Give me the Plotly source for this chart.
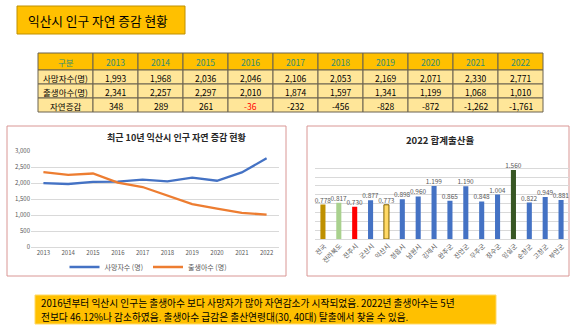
import math
import plotly.graph_objects as go

W, H = 580, 328
FONT = "Noto Sans CJK KR"

# ---- data ----
years = ["2013", "2014", "2015", "2016", "2017", "2018", "2019", "2020", "2021", "2022"]
deaths = [1993, 1968, 2036, 2046, 2106, 2053, 2169, 2071, 2330, 2771]
births = [2341, 2257, 2297, 2010, 1874, 1597, 1341, 1199, 1068, 1010]
natural_change = [348, 289, 261, -36, -232, -456, -828, -872, -1262, -1761]
row_labels = ["사망자수(명)", "출생아수(명)", "자연증감"]
first_decline_year = "2016"

regions = ["전국", "전라북도", "전주시", "군산시", "익산시", "정읍시", "남원시", "김제시",
           "완주군", "진안군", "무주군", "장수군", "임실군", "순창군", "고창군", "부안군"]
tfr = [0.778, 0.817, 0.730, 0.877, 0.773, 0.898, 0.960, 1.199,
       0.865, 1.190, 0.848, 1.004, 1.560, 0.822, 0.949, 0.881]
bar_colors = ["#BF9000", "#A9D18E", "#FF0000", "#4472C4", "#FFD966", "#4472C4", "#4472C4", "#4472C4",
              "#4472C4", "#4472C4", "#4472C4", "#4472C4", "#375623", "#4472C4", "#4472C4", "#4472C4"]


def px(x):
    return x / W


def py(y):
    return 1 - y / H


# pixel rows of the bar chart plot area
BAR_BASE, BAR_TOP = 239, 159.3

fig = go.Figure()

# ---- line chart ----
fig.add_trace(go.Scatter(x=years, y=deaths, mode="lines", name="사망자수 (명)",
                         line=dict(color="#4472C4", width=2.3), xaxis="x", yaxis="y"))
fig.add_trace(go.Scatter(x=years, y=births, mode="lines", name="출생아수 (명)",
                         line=dict(color="#ED7D31", width=2.3), xaxis="x", yaxis="y"))

# ---- bar chart ----
fig.add_trace(go.Bar(
    x=regions, y=tfr, xaxis="x2", yaxis="y2", showlegend=False, width=0.32,
    marker=dict(color=bar_colors,
                line=dict(color=["#7F6000" if c == "#FFD966" else "rgba(0,0,0,0)" for c in bar_colors],
                          width=[1 if c == "#FFD966" else 0 for c in bar_colors])),
    text=[f"{v:.3f}" for v in tfr], textposition="outside", cliponaxis=False,
    constraintext="none",
    textfont=dict(family=FONT, size=6.5, color="#595959"),
))

tick_font = dict(family=FONT, size=6, color="#595959")

fig.update_layout(
    template="none",
    width=W, height=H,
    margin=dict(l=0, r=0, t=0, b=0),
    paper_bgcolor="white", plot_bgcolor="rgba(0,0,0,0)",
    font=dict(family=FONT),
    xaxis=dict(domain=[px(31), px(279)], anchor="y", type="category", range=[-0.5, 9.5],
               automargin=False, showgrid=False, showline=True, linecolor="#D9D9D9",
               ticks="", tickangle=0, tickfont=tick_font),
    yaxis=dict(domain=[py(247), py(151)], anchor="x", range=[0, 3000], dtick=500, tickformat=",",
               automargin=False, showgrid=True, gridcolor="#D9D9D9", gridwidth=1,
               zeroline=False, showline=False, ticks="", tickfont=tick_font),
    xaxis2=dict(domain=[px(315), px(569)], anchor="y2", type="category", range=[-0.5, 15.5],
                automargin=False, showgrid=False, showline=True, linecolor="#D9D9D9",
                ticks="", showticklabels=False),
    yaxis2=dict(domain=[py(BAR_BASE), py(BAR_TOP)], anchor="x2", range=[0, 1.8], dtick=0.2,
                automargin=False, showgrid=True, gridcolor="#D9D9D9", gridwidth=1,
                zeroline=False, showline=False, showticklabels=False, ticks=""),
    legend=dict(orientation="h", x=px(148), y=py(267), xanchor="center", yanchor="middle",
                font=dict(family=FONT, size=7, color="#595959"), bgcolor="rgba(0,0,0,0)",
                tracegroupgap=0),
    bargap=0.65,
)

shapes = []
annotations = []

# ---- region labels, slanted at 45 degrees and ending just under each bar ----
label_size = 6.5
diag = math.cos(math.radians(45))
for name in regions:
    half = len(name) * label_size * 0.5
    annotations.append(dict(text=name, x=name, xref="x2",
                            y=py(BAR_BASE + 5 + half * diag), yref="paper",
                            xanchor="center", yanchor="middle", textangle=-45, showarrow=False,
                            xshift=2 - half * diag,
                            font=dict(family=FONT, size=label_size, color="#595959")))

# ---- summary table (cells drawn from the data arrays) ----
col_edges = [38, 93] + [93 + 45 * (i + 1) for i in range(len(years))]
row_edges = [53, 70, 84, 98, 112]
header_row = ["구분"] + years
body_rows = [
    [row_labels[0]] + [f"{v:,}" for v in deaths],
    [row_labels[1]] + [f"{v:,}" for v in births],
    [row_labels[2]] + [f"{v:,}" for v in natural_change],
]
table_rows = [header_row] + body_rows
for r, row in enumerate(table_rows):
    y0, y1 = row_edges[r], row_edges[r + 1]
    for c, val in enumerate(row):
        x0, x1 = col_edges[c], col_edges[c + 1]
        shapes.append(dict(type="rect", xref="paper", yref="paper",
                           x0=px(x0), x1=px(x1), y0=py(y1), y1=py(y0),
                           fillcolor="#FFC000" if r == 0 else "#FFE699",
                           line=dict(color="#6b6250", width=1), layer="below"))
        color = "#000000"
        if r == 0:
            color = "#2E8B7A"
        elif r == 3 and c > 0 and years[c - 1] == first_decline_year:
            color = "#FF0000"
        annotations.append(dict(text=val, x=px((x0 + x1) / 2), y=py((y0 + y1) / 2 + 0.5),
                                xref="paper", yref="paper", xanchor="center", yanchor="middle",
                                showarrow=False,
                                font=dict(family=FONT, size=8.5, color=color)))

# ---- frames and boxes ----
shapes += [
    dict(type="rect", xref="paper", yref="paper", x0=px(17), x1=px(185), y0=py(34), y1=py(6),
         fillcolor="#FFC000", line=dict(color="#BF9000", width=1), layer="below"),
    dict(type="rect", xref="paper", yref="paper", x0=px(7), x1=px(286), y0=py(276), y1=py(126),
         fillcolor="rgba(0,0,0,0)", line=dict(color="#D99694", width=1), layer="below"),
    dict(type="rect", xref="paper", yref="paper", x0=px(307), x1=px(569), y0=py(276), y1=py(126),
         fillcolor="rgba(0,0,0,0)", line=dict(color="#D99694", width=1), layer="below"),
    dict(type="rect", xref="paper", yref="paper", x0=px(35), x1=px(496), y0=py(324), y1=py(295),
         fillcolor="#FFC000", line=dict(color="#FFD966", width=1), layer="below"),
]

annotations += [
    dict(text="익산시 인구 자연 증감 현황", x=px(26), y=py(20), xref="paper", yref="paper",
         xanchor="left", yanchor="middle", showarrow=False,
         font=dict(family=FONT, size=12.7, color="#000000")),
    dict(text="<b>최근 10년 익산시 인구 자연 증감 현황</b>", x=px(177), y=py(137), xref="paper", yref="paper",
         xanchor="center", yanchor="middle", showarrow=False,
         font=dict(family=FONT, size=9, color="#262626")),
    dict(text="<b>2022 합계출산율</b>", x=px(440), y=py(140), xref="paper", yref="paper",
         xanchor="center", yanchor="middle", showarrow=False,
         font=dict(family=FONT, size=9.5, color="#262626")),
    dict(text="2016년부터 익산시 인구는 출생아수 보다 사망자가 많아 자연감소가 시작되었음. 2022년 출생아수는 5년",
         x=px(39), y=py(303), xref="paper", yref="paper", xanchor="left", yanchor="middle",
         showarrow=False, font=dict(family=FONT, size=9.7, color="#000000")),
    dict(text="전보다 46.12%나 감소하였음. 출생아수 급감은 출산연령대(30, 40대) 탈출에서 찾을 수 있음.",
         x=px(39), y=py(316.5), xref="paper", yref="paper", xanchor="left", yanchor="middle",
         showarrow=False, font=dict(family=FONT, size=9.7, color="#000000")),
]

fig.update_layout(shapes=shapes, annotations=annotations)

fig.write_html("out.html")
